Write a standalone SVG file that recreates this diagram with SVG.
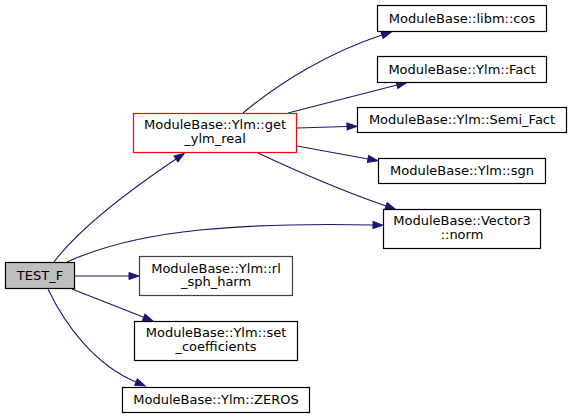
<svg xmlns="http://www.w3.org/2000/svg" width="572" height="419" viewBox="0 0 572 419">
<style>
.node rect{fill:#ffffff;stroke:#000000;stroke-width:1.2}
.node text{font-family:"DejaVu Sans","Liberation Sans",sans-serif;font-size:13px;fill:#000000;text-anchor:middle}
.edges path{fill:none;stroke:#191970;stroke-width:1.1;marker-end:url(#arr)}
</style>
<defs>
<marker id="arr" markerUnits="userSpaceOnUse" markerWidth="12" markerHeight="10" refX="0" refY="3.5" orient="auto" overflow="visible">
<path d="M0,0 L10,3.5 L0,7 z" fill="#191970" stroke="#191970" stroke-width="1"/>
</marker>
</defs>
<rect width="572" height="419" fill="#ffffff"/>
<g class="edges" id="edges">
<path d="M54,262 C78,230 130,190 176,159"/>
<path d="M67,262 C100,247 140,236 200,230 C260,224 320,224 373,225"/>
<path d="M74,276 L129,276"/>
<path d="M72,289 L143.7,317.3"/>
<path d="M48,289 C65,325 95,365 136,382"/>
<path d="M243,113 C280,82 330,52 382,35"/>
<path d="M288,113 L397,85"/>
<path d="M297,128 L347,126.5"/>
<path d="M297,146 L368,159"/>
<path d="M258,153 C290,168 340,190 386,206"/>
</g>
<g class="node" id="node_test_f"><rect x="5.5" y="262.5" width="69" height="26" style="fill:#bfbfbf"/><text x="40" y="280">TEST_F</text></g>
<g class="node" id="node_get_ylm_real"><rect x="133.5" y="113.5" width="163" height="39" style="stroke:#ff0000"/><text x="215" y="129">ModuleBase::Ylm::get</text><text x="215" y="143">_ylm_real</text></g>
<g class="node" id="node_cos"><rect x="377.5" y="5.5" width="169" height="26"/><text x="462" y="22.5">ModuleBase::libm::cos</text></g>
<g class="node" id="node_fact"><rect x="377.5" y="56.5" width="169" height="26"/><text x="462" y="73.5">ModuleBase::Ylm::Fact</text></g>
<g class="node" id="node_semi_fact"><rect x="357.5" y="107.5" width="209" height="25"/><text x="462" y="124">ModuleBase::Ylm::Semi_Fact</text></g>
<g class="node" id="node_sgn"><rect x="378.5" y="158.5" width="167" height="25"/><text x="462" y="175">ModuleBase::Ylm::sgn</text></g>
<g class="node" id="node_norm"><rect x="383.5" y="209.5" width="157" height="39"/><text x="462" y="225">ModuleBase::Vector3</text><text x="462" y="239">::norm</text></g>
<g class="node" id="node_rl_sph_harm"><rect x="139.5" y="256.5" width="153" height="39" style="stroke:#404040"/><text x="216" y="272.5">ModuleBase::Ylm::rl</text><text x="216" y="286">_sph_harm</text></g>
<g class="node" id="node_set_coefficients"><rect x="134.5" y="321.5" width="163" height="39"/><text x="216" y="337">ModuleBase::Ylm::set</text><text x="216" y="351">_coefficients</text></g>
<g class="node" id="node_zeros"><rect x="122.5" y="387.5" width="187" height="25"/><text x="216" y="403.5">ModuleBase::Ylm::ZEROS</text></g>
</svg>
